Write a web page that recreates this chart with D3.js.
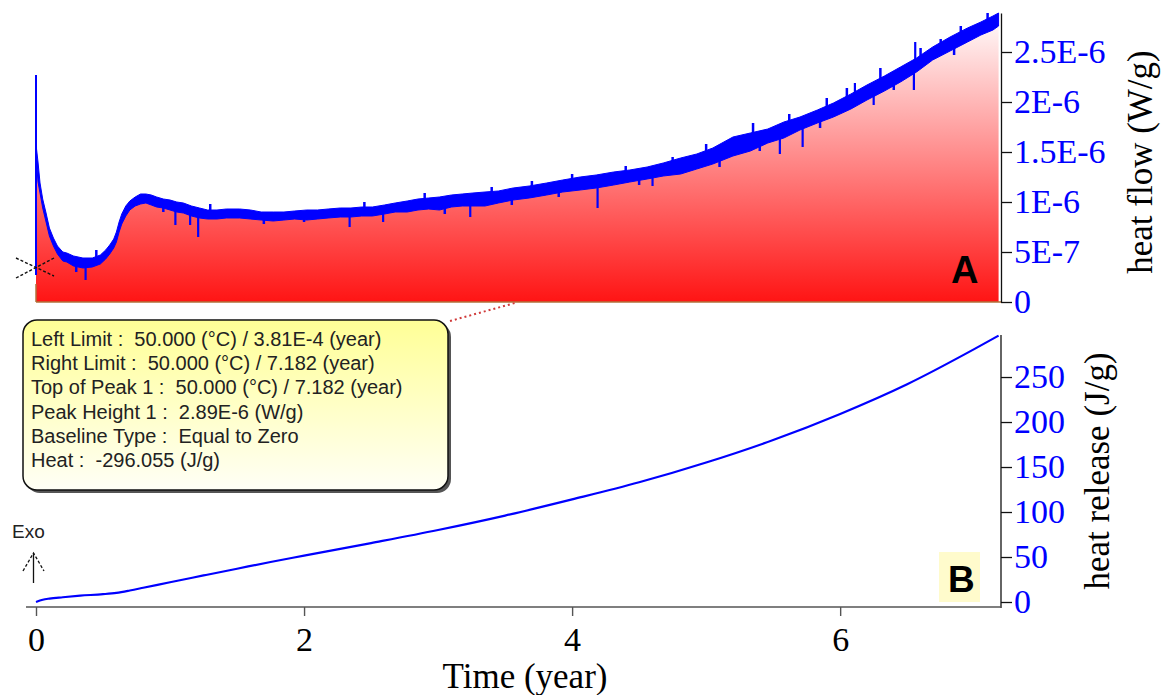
<!DOCTYPE html>
<html><head><meta charset="utf-8">
<script src="https://cdn.jsdelivr.net/npm/d3@7"></script>
<style>
html,body{margin:0;padding:0;background:#fff;}
svg{display:block;}
</style>
</head><body>
<div id="chart"></div>
<script>
// ---- Panel A : heat flow (W/g), noisy band ----
const hfTime = [0,0.004,0.015,0.03,0.05,0.075,0.10,0.13,0.16,0.20,0.23,0.28,0.35,0.42,0.48,0.52,0.55,0.58,0.60,0.62,0.64,0.67,0.70,0.74,0.78,0.82,0.86,0.90,0.95,1.00,1.05,1.10,1.16,1.22,1.28,1.35,1.42,1.47,1.52,1.60,1.68,1.77,1.85,1.93,2.02,2.10,2.18,2.27,2.35,2.43,2.51,2.60,2.68,2.77,2.85,2.93,3.01,3.10,3.18,3.26,3.35,3.45,3.56,3.68,3.81,3.93,4.06,4.18,4.31,4.43,4.56,4.68,4.81,4.93,5.05,5.20,5.33,5.46,5.58,5.70,5.83,5.95,6.08,6.20,6.33,6.45,6.57,6.69,6.82,6.95,7.05,7.14,7.182];
const hfLow  = [14.5e-7,14.0e-7,12.0e-7,10.9e-7,9.4e-7,8.0e-7,6.6e-7,5.6e-7,4.8e-7,4.1e-7,4.0e-7,3.6e-7,3.4e-7,3.5e-7,3.8e-7,4.3e-7,4.8e-7,5.4e-7,6.0e-7,7.0e-7,7.8e-7,8.6e-7,9.2e-7,9.6e-7,9.8e-7,9.9e-7,9.7e-7,9.5e-7,9.4e-7,9.2e-7,9.0e-7,8.9e-7,8.6e-7,8.4e-7,8.3e-7,8.3e-7,8.4e-7,8.4e-7,8.4e-7,8.3e-7,8.2e-7,8.1e-7,8.2e-7,8.3e-7,8.2e-7,8.3e-7,8.4e-7,8.5e-7,8.5e-7,8.6e-7,8.6e-7,8.8e-7,9.0e-7,9.0e-7,9.2e-7,9.3e-7,9.2e-7,9.5e-7,9.6e-7,9.6e-7,9.6e-7,9.9e-7,10.2e-7,10.4e-7,10.7e-7,11.0e-7,11.2e-7,11.4e-7,11.7e-7,12.0e-7,12.3e-7,12.6e-7,12.8e-7,13.3e-7,13.8e-7,14.6e-7,15.1e-7,15.9e-7,16.4e-7,17.2e-7,17.9e-7,18.5e-7,19.3e-7,20.2e-7,21.1e-7,22.0e-7,23.0e-7,24.2e-7,25.1e-7,26.0e-7,26.7e-7,27.2e-7,27.6e-7];
const hfHigh = [22.7e-7,15.3e-7,14.0e-7,11.9e-7,10.3e-7,8.9e-7,7.4e-7,6.4e-7,5.6e-7,5.0e-7,4.9e-7,4.6e-7,4.4e-7,4.4e-7,4.7e-7,5.2e-7,5.7e-7,6.3e-7,7.0e-7,8.0e-7,8.8e-7,9.6e-7,10.1e-7,10.5e-7,10.8e-7,10.8e-7,10.7e-7,10.5e-7,10.3e-7,10.2e-7,10.0e-7,9.9e-7,9.6e-7,9.4e-7,9.2e-7,9.2e-7,9.3e-7,9.3e-7,9.3e-7,9.2e-7,9.0e-7,9.0e-7,9.0e-7,9.1e-7,9.2e-7,9.2e-7,9.3e-7,9.4e-7,9.4e-7,9.5e-7,9.5e-7,9.7e-7,9.9e-7,10.1e-7,10.3e-7,10.4e-7,10.5e-7,10.7e-7,10.8e-7,10.9e-7,11.0e-7,11.1e-7,11.4e-7,11.6e-7,11.9e-7,12.2e-7,12.5e-7,12.7e-7,13.0e-7,13.2e-7,13.5e-7,13.9e-7,14.4e-7,14.8e-7,15.4e-7,16.5e-7,16.9e-7,17.3e-7,18.0e-7,18.5e-7,19.2e-7,19.9e-7,20.8e-7,21.7e-7,22.6e-7,23.5e-7,24.4e-7,25.5e-7,26.5e-7,27.4e-7,28.0e-7,28.6e-7,28.9e-7];
// large isolated noise spikes (time, extreme value)
const spikeTime  = [0.37,1.04,1.15,1.21,2.34,2.59,3.24,4.19,4.60,5.55,5.72,6.11,6.25,6.55,6.56];
const spikeValue = [2.2e-7,7.7e-7,7.7e-7,6.5e-7,7.5e-7,8.0e-7,8.5e-7,9.4e-7,11.6e-7,14.8e-7,15.5e-7,21.9e-7,19.7e-7,21.2e-7,26.0e-7];
// small noise spikes (time, extreme value)
const smallSpikeTime  = [0.30,0.45,0.95,1.30,1.70,2.00,2.45,2.90,3.05,3.40,3.55,3.70,3.90,4.00,4.40,4.50,4.75,5.00,5.10,5.35,5.40,5.62,5.85,5.90,6.05,6.30,6.40,6.60,6.75,6.85,6.90,7.10];
const smallSpikeValue = [3.0e-7,5.2e-7,9.0e-7,9.8e-7,7.8e-7,8.0e-7,10.0e-7,10.9e-7,8.8e-7,11.5e-7,9.7e-7,12.1e-7,10.5e-7,12.8e-7,13.6e-7,11.7e-7,14.5e-7,15.8e-7,13.5e-7,17.9e-7,15.1e-7,18.8e-7,17.4e-7,20.4e-7,21.4e-7,23.4e-7,21.2e-7,25.4e-7,26.3e-7,24.7e-7,27.6e-7,28.9e-7];

// ---- Panel B : cumulative heat release (J/g) ----
const hrTime  = [0,0.05,0.10,0.20,0.33,0.50,0.60,0.70,0.80,1.00,1.25,1.50,1.75,2.00,2.50,3.00,3.50,4.00,4.50,5.00,5.50,6.00,6.50,7.00,7.182];
const hrValue = [0,2.5,3.8,5.3,7.0,8.7,10.2,12.8,15.8,22,29.5,37,44.5,51.5,65.5,80,96,114,133,155,180,209,242,281,296];

// ---- tick labels ----
const xTicks = [0,2,4,6];
const xTickLabels = ["0","2","4","6"];
const hfTicks = [0,5e-7,1e-6,1.5e-6,2e-6,2.5e-6];
const hfTickLabels = ["0","5E-7","1E-6","1.5E-6","2E-6","2.5E-6"];
const hrTicks = [0,50,100,150,200,250];
const hrTickLabels = ["0","50","100","150","200","250"];

const infoLines = [
  "Left Limit :  50.000 (\u00B0C) / 3.81E-4 (year)",
  "Right Limit :  50.000 (\u00B0C) / 7.182 (year)",
  "Top of Peak 1 :  50.000 (\u00B0C) / 7.182 (year)",
  "Peak Height 1 :  2.89E-6 (W/g)",
  "Baseline Type :  Equal to Zero",
  "Heat :  -296.055 (J/g)"
];

const SERIF = "'Liberation Serif','Times New Roman',serif";
const SANS = "'Liberation Sans',Arial,sans-serif";

const svg = d3.select("#chart").append("svg").attr("width",1165).attr("height",695);
const defs = svg.append("defs");

const x = d3.scaleLinear().domain([0,7.2]).range([36,1001]);
const yA = d3.scaleLinear().domain([0,2.89e-6]).range([302,13]);
const yB = d3.scaleLinear().domain([0,296.7]).range([602,335]);

// gradient for red fill
const g1 = defs.append("linearGradient").attr("id","redfill").attr("gradientUnits","userSpaceOnUse")
  .attr("x1",0).attr("x2",0).attr("y1",yA.range()[1]).attr("y2",yA.range()[0]);
g1.append("stop").attr("offset","0%").attr("stop-color","#ffffff");
g1.append("stop").attr("offset","100%").attr("stop-color","#ff1414");

const g2 = defs.append("linearGradient").attr("id","boxfill").attr("x1",0).attr("x2",0).attr("y1",0).attr("y2",1);
g2.append("stop").attr("offset","0%").attr("stop-color","#ffff96");
g2.append("stop").attr("offset","100%").attr("stop-color","#fffff6");

const hf = hfTime.map((t,i)=>({t, lo:hfLow[i], hi:hfHigh[i]}));

// red area under curve
svg.append("path").datum(hf)
  .attr("d", d3.area().x(d=>x(d.t)).y0(yA(0)).y1(d=>yA((d.lo+d.hi)/2)))
  .attr("fill","url(#redfill)");

// baseline (brown)
svg.append("line").attr("x1",x(0)).attr("x2",1001).attr("y1",yA(0)).attr("y2",yA(0))
  .attr("stroke","#b0703a").attr("stroke-width",1.5);
svg.append("line").attr("x1",x(0)).attr("x2",x(0)).attr("y1",yA(0)).attr("y2",yA(1.8e-7))
  .attr("stroke","#b0703a").attr("stroke-width",1.5);

// blue noisy band
svg.append("path").datum(hf)
  .attr("d", d3.area().x(d=>x(d.t)).y0(d=>yA(d.lo)).y1(d=>yA(d.hi)))
  .attr("fill","#0000ff").attr("stroke","#0000ff").attr("stroke-width",1.0).attr("stroke-linejoin","round");
// initial vertical spike
svg.append("line").attr("x1",x(0)).attr("x2",x(0)).attr("y1",yA(hfHigh[0])).attr("y2",yA(2.7e-7))
  .attr("stroke","#0000ff").attr("stroke-width",2);

// spikes
const interpMid = t => { const i = d3.bisectLeft(hfTime,t); const a=hf[Math.max(0,i-1)], b=hf[Math.min(hf.length-1,i)];
  const f = b.t===a.t?0:(t-a.t)/(b.t-a.t); return ((a.lo+a.hi)/2)*(1-f)+((b.lo+b.hi)/2)*f; };
svg.append("g").selectAll("line").data(spikeTime.map((t,i)=>({t,v:spikeValue[i]}))).join("line")
  .attr("x1",d=>x(d.t)).attr("x2",d=>x(d.t))
  .attr("y1",d=>yA(interpMid(d.t))).attr("y2",d=>yA(d.v))
  .attr("stroke","#0000ff").attr("stroke-width",2.2);
svg.append("g").selectAll("line").data(smallSpikeTime.map((t,i)=>({t,v:smallSpikeValue[i]}))).join("line")
  .attr("x1",d=>x(d.t)).attr("x2",d=>x(d.t))
  .attr("y1",d=>yA(interpMid(d.t))).attr("y2",d=>yA(d.v))
  .attr("stroke","#0000ff").attr("stroke-width",2.5);

// X marker at start
svg.append("g").attr("stroke","#111").attr("stroke-width",1.4).attr("stroke-dasharray","3,2")
  .call(g=>{g.append("line").attr("x1",16).attr("y1",258).attr("x2",54).attr("y2",276);
            g.append("line").attr("x1",16).attr("y1",278).attr("x2",54).attr("y2",258);});

// right axis A
const axA = svg.append("g").attr("transform","translate(1001,0)");
axA.call(d3.axisRight(yA).tickValues(d3.range(0,29).map(i=>i*1e-7)).tickSize(4).tickSizeOuter(0).tickFormat(""));
axA.call(d3.axisRight(yA).tickValues(hfTicks).tickSize(11).tickSizeOuter(0).tickPadding(2).tickFormat((d,i)=>hfTickLabels[i]));
axA.selectAll("path,line").attr("stroke","#111").attr("stroke-width",1.3);
axA.selectAll("text").attr("fill","#0000ff").style("font-family",SERIF).style("font-size","34px");

// "A"
svg.append("text").attr("x",951).attr("y",283).text("A")
  .style("font-family",SANS).style("font-weight","bold").style("font-size","38px").attr("fill","#000");

// panel B curve
svg.append("path").datum(hrTime.map((t,i)=>({t,v:hrValue[i]})))
  .attr("d", d3.line().x(d=>x(d.t)).y(d=>yB(d.v)).curve(d3.curveMonotoneX))
  .attr("fill","none").attr("stroke","#0000ff").attr("stroke-width",2.2);

// right axis B
const axB = svg.append("g").attr("transform","translate(1001,0)");
axB.call(d3.axisRight(yB).tickValues(d3.range(0,30).map(i=>i*10)).tickSize(4).tickSizeOuter(0).tickFormat(""));
axB.call(d3.axisRight(yB).tickValues(hrTicks).tickSize(11).tickSizeOuter(0).tickPadding(2).tickFormat((d,i)=>hrTickLabels[i]));
axB.select(".domain").remove();
axB.append("line").attr("x1",0).attr("x2",0).attr("y1",yB.range()[1]).attr("y2",608);
axB.selectAll("path,line").attr("stroke","#111").attr("stroke-width",1.3);
axB.selectAll("text").attr("fill","#0000ff").style("font-family",SERIF).style("font-size","34px");

// "B" with yellow box
svg.append("rect").attr("x",939).attr("y",552).attr("width",41).attr("height",50).attr("fill","#fffbcc");
svg.append("text").attr("x",948).attr("y",592).text("B")
  .style("font-family",SANS).style("font-weight","bold").style("font-size","37px").attr("fill","#000");

// x axis
const axX = svg.append("g").attr("transform","translate(0,607)");
axX.call(d3.axisBottom(x).tickValues(d3.range(0,19).map(i=>i*0.4)).tickSize(4).tickSizeOuter(0).tickFormat(""));
axX.call(d3.axisBottom(x).tickValues(xTicks).tickSize(9).tickSizeOuter(0).tickFormat((d,i)=>xTickLabels[i]));
axX.selectAll(".domain").remove();
axX.append("line").attr("x1",26).attr("x2",1001).attr("y1",0).attr("y2",0);
axX.selectAll("line").attr("stroke","#555").attr("stroke-width",1.4);
axX.selectAll("text").attr("y",20).attr("dy","0.71em").attr("fill","#000")
  .style("font-family",SERIF).style("font-size","34px");

// axis titles
svg.append("text").attr("x",525).attr("y",688).attr("text-anchor","middle").text("Time (year)")
  .style("font-family",SERIF).style("font-size","35px").attr("fill","#000");
svg.append("text").attr("transform","translate(1152,162) rotate(-90)").attr("text-anchor","middle").text("heat flow (W/g)")
  .style("font-family",SERIF).style("font-size","35px").attr("fill","#000");
svg.append("text").attr("transform","translate(1109,471) rotate(-90)").attr("text-anchor","middle").text("heat release (J/g)")
  .style("font-family",SERIF).style("font-size","35px").attr("fill","#000");

// Exo arrow
svg.append("text").attr("x",12).attr("y",538).text("Exo")
  .style("font-family",SANS).style("font-size","19px").attr("fill","#222");
svg.append("line").attr("x1",33.5).attr("x2",33.5).attr("y1",553).attr("y2",583).attr("stroke","#111").attr("stroke-width",1.3);
svg.append("path").attr("d","M23,571 L33.5,553 L44,571").attr("fill","none")
  .attr("stroke","#111").attr("stroke-width",1.3).attr("stroke-dasharray","3,2");

// dotted leader line
svg.append("line").attr("x1",450).attr("y1",321).attr("x2",515).attr("y2",303)
  .attr("stroke","#d03a3a").attr("stroke-width",2).attr("stroke-dasharray","2,3");

// info box
svg.append("rect").attr("x",26).attr("y",323).attr("width",425).attr("height",170).attr("rx",14)
  .attr("fill","#555");
svg.append("rect").attr("x",23).attr("y",320).attr("width",425).attr("height",170).attr("rx",14)
  .attr("fill","url(#boxfill)").attr("stroke","#111").attr("stroke-width",1.5);
svg.append("g").selectAll("text").data(infoLines).join("text")
  .attr("x",31).attr("y",(d,i)=>346+i*24.2).text(d=>d)
  .attr("xml:space","preserve").style("white-space","pre")
  .style("font-family",SANS).style("font-size","20px").attr("fill","#222");
</script>
</body></html>
